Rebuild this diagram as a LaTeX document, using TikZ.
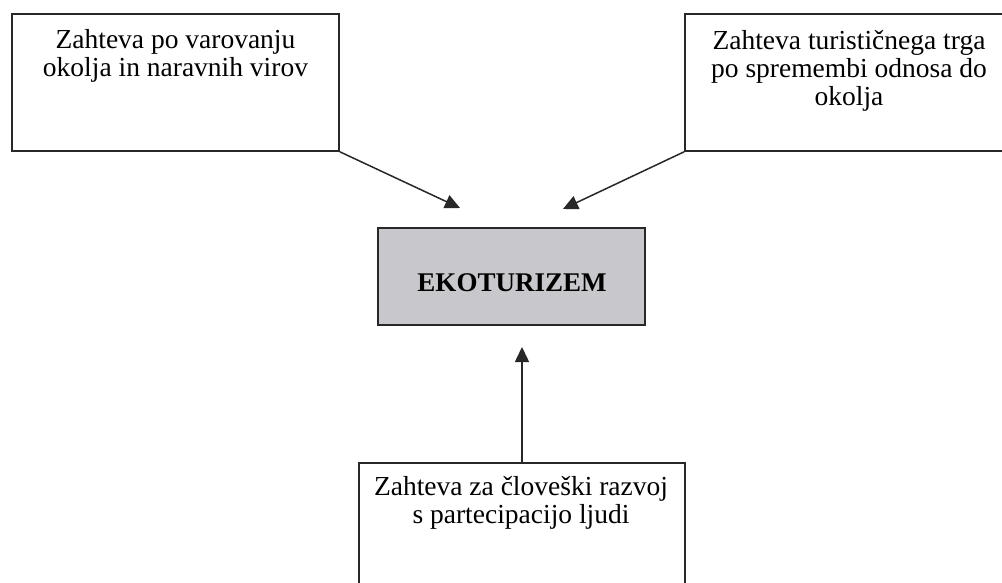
\documentclass[tikz,border=0pt]{standalone}
\usepackage{fontspec}
\setmainfont{Liberation Serif}
\usetikzlibrary{arrows.meta}
\definecolor{boxgray}{RGB}{200,199,203}
\definecolor{linec}{RGB}{40,40,40}
\tikzset{
  box/.style={draw=linec, line width=1.5pt, rectangle, inner sep=0pt},
  txt/.style={font=\fontsize{27.5pt}{28pt}\selectfont, align=center, inner sep=0pt},
  conn/.style={draw=linec, line width=1.5pt, -{Triangle[length=15pt,width=14pt]}}
}
\begin{document}
\begin{tikzpicture}[x=1pt,y=-1pt]
\useasboundingbox (0,0) rectangle (1002,583);
\clip (0,0) rectangle (1002,583);
\fill[white] (0,0) rectangle (1002,583);
% boxes
\node[box, minimum width=327pt, minimum height=137pt] (tl) at (175.5,82.5) {};
\node[box, minimum width=328pt, minimum height=137pt] (tr) at (849,82.5) {};
\node[box, fill=boxgray, minimum width=267pt, minimum height=97pt] (eko) at (511.5,276.5) {};
\node[box, minimum width=326pt, minimum height=160pt] (bot) at (522,543) {};
% texts
\node[txt, anchor=base] (tltext) at (175.5,76.3) {Zahteva po varovanju\\okolja in naravnih virov};
\node[txt, anchor=base] (trtext) at (849,106) {Zahteva turističnega trga\\po spremembi odnosa do\\okolja};
\node[txt, anchor=base, font=\fontsize{27pt}{28pt}\selectfont\bfseries] (ekotext) at (512,291.7) {EKOTURIZEM};
\node[txt, anchor=base] (bottext) at (521,523) {Zahteva za človeški razvoj\\s partecipacijo ljudi};
% arrow ends
\coordinate (e1) at (460,208);
\coordinate (e2) at (563,209);
\coordinate (e3) at (522,347);
\draw[conn] (tl.south east) -- (e1);
\draw[conn] (tr.south west) -- (e2);
\draw[conn] (bot.north) -- (e3);
\end{tikzpicture}
\end{document}
